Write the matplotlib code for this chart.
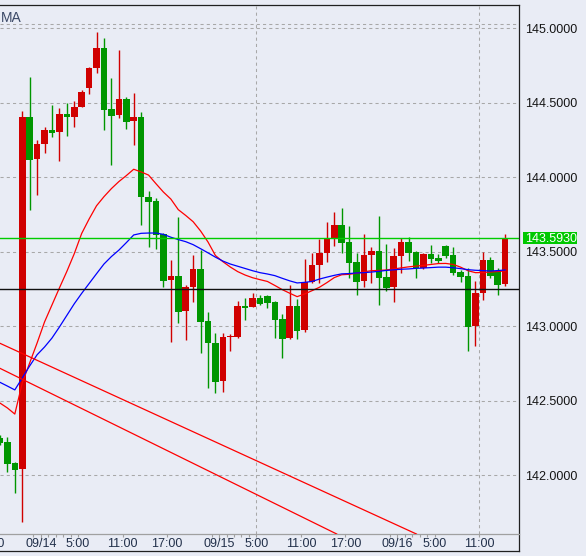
import numpy as np
import matplotlib
matplotlib.use('Agg')
import matplotlib.pyplot as plt
from matplotlib.patches import Rectangle
from matplotlib import transforms

plt.rcParams['font.family'] = ['Liberation Sans', 'DejaVu Sans']

# hourly candles, hour 0 = 09/15 5:00
hours = np.arange(-35, 34)
opens = [142.252, 142.224, 142.083, 142.044, 144.407, 144.123, 144.223, 144.317, 144.306, 144.425,
         144.407, 144.474, 144.601, 144.736, 144.868, 144.456, 144.418, 144.526, 144.380, 144.405,
         143.870, 143.841, 143.619, 143.311, 143.338, 143.105, 143.266, 143.385, 143.036, 142.888,
         142.635, 142.926, 142.930, 143.138, 143.132, 143.190, 143.203, 143.163, 143.049, 142.923,
         143.136, 142.975, 143.297, 143.411, 143.494, 143.593, 143.680, 143.566, 143.432, 143.306,
         143.479, 143.505, 143.329, 143.266, 143.472, 143.566, 143.499, 143.389, 143.485, 143.458,
         143.539, 143.479, 143.364, 143.338, 143.002, 143.226, 143.445, 143.371, 143.284]
highs = [142.270, 142.259, 142.090, 144.447, 144.675, 144.250, 144.340, 144.485, 144.463, 144.496,
         144.512, 144.586, 144.742, 144.975, 144.935, 144.666, 144.854, 144.539, 144.566, 144.440,
         143.908, 143.859, 143.628, 143.445, 143.732, 143.277, 143.479, 143.512, 143.094, 142.957,
         142.957, 142.948, 143.170, 143.192, 143.221, 143.210, 143.210, 143.170, 143.083, 143.277,
         143.183, 143.452, 143.494, 143.588, 143.700, 143.767, 143.794, 143.673, 143.494, 143.619,
         143.534, 143.740, 143.552, 143.525, 143.593, 143.597, 143.505, 143.490, 143.546, 143.485,
         143.546, 143.532, 143.378, 143.389, 143.304, 143.499, 143.465, 143.391, 143.620]
lows = [142.200, 142.024, 141.879, 141.689, 143.781, 143.881, 144.165, 144.272, 144.111, 144.279,
        144.340, 144.470, 144.559, 144.702, 144.317, 144.083, 144.398, 144.324, 144.217, 143.680,
        143.534, 143.519, 143.266, 142.897, 143.024, 142.908, 143.165, 142.823, 142.584, 142.554,
        142.561, 142.834, 142.919, 143.042, 143.128, 143.143, 143.125, 142.919, 142.789, 142.913,
        142.917, 142.964, 143.290, 143.293, 143.430, 143.541, 143.494, 143.326, 143.212, 143.266,
        143.293, 143.143, 143.239, 143.165, 143.356, 143.438, 143.326, 143.385, 143.427, 143.425,
        143.460, 143.344, 143.299, 142.836, 142.868, 143.176, 143.322, 143.210, 143.270]
closes = [142.219, 142.078, 142.038, 144.407, 144.116, 144.223, 144.317, 144.299, 144.425, 144.403,
          144.472, 144.572, 144.734, 144.868, 144.452, 144.411, 144.526, 144.373, 144.405, 143.866,
          143.836, 143.613, 143.306, 143.338, 143.098, 143.266, 143.385, 143.031, 142.886, 142.628,
          142.926, 142.930, 143.136, 143.125, 143.190, 143.152, 143.158, 143.042, 142.917, 143.136,
          142.970, 143.297, 143.411, 143.494, 143.593, 143.680, 143.561, 143.427, 143.299, 143.479,
          143.505, 143.326, 143.257, 143.472, 143.566, 143.494, 143.389, 143.485, 143.454, 143.438,
          143.474, 143.360, 143.333, 142.997, 143.226, 143.445, 143.338, 143.277, 143.593]
ma_fast = [142.485, 142.452, 142.411, 142.619, 142.754, 142.888, 143.029, 143.143, 143.257, 143.368,
           143.487, 143.623, 143.720, 143.809, 143.870, 143.924, 143.971, 144.011, 144.054, 144.036,
           144.015, 143.957, 143.901, 143.854, 143.783, 143.744, 143.702, 143.640, 143.566, 143.475,
           143.434, 143.398, 143.367, 143.344, 143.326, 143.313, 143.301, 143.274, 143.246, 143.222,
           143.199, 143.217, 143.239, 143.262, 143.293, 143.327, 143.346, 143.349, 143.356, 143.366,
           143.373, 143.375, 143.378, 143.385, 143.392, 143.399, 143.404, 143.409, 143.415, 143.421,
           143.422, 143.415, 143.397, 143.373, 143.360, 143.361, 143.364, 143.368, 143.371]
ma_slow = [142.624, 142.599, 142.573, 142.653, 142.734, 142.809, 142.861, 142.921, 142.995, 143.073,
           143.151, 143.221, 143.287, 143.353, 143.418, 143.468, 143.511, 143.561, 143.613, 143.624,
           143.626, 143.626, 143.617, 143.598, 143.582, 143.568, 143.548, 143.521, 143.493, 143.464,
           143.438, 143.418, 143.403, 143.388, 143.373, 143.360, 143.351, 143.340, 143.322, 143.305,
           143.291, 143.295, 143.301, 143.317, 143.330, 143.342, 143.352, 143.354, 143.358, 143.360,
           143.364, 143.369, 143.375, 143.379, 143.383, 143.385, 143.389, 143.391, 143.394, 143.397,
           143.397, 143.393, 143.387, 143.380, 143.376, 143.374, 143.371, 143.374, 143.378]

last_price = 143.593
black_level = 143.248
extra_level = 145.027
price_ticks = [142.0, 142.5, 143.0, 143.5, 144.0, 144.5, 145.0]
trend1 = [(-35, 142.886), (20, 141.630)]
trend2 = [(-35, 142.718), (10, 141.614)]

date_pos = [-29.5, -5.5, 18.5]
date_text = ['09/14', '09/15', '09/16']
hour_pos = [-30.5, -28.5, -27.5, -26.5, -25.5, -24.5, -18.5, -12.5, -6.5, -4.5, -3.5, -2.5, -1.5,
            -0.5, 5.5, 11.5, 17.5, 19.5, 20.5, 21.5, 22.5, 23.5, 29.5]
hour_text = {-24.5: '5:00', -18.5: '11:00', -12.5: '17:00', -0.5: '5:00', 5.5: '11:00',
             11.5: '17:00', 23.5: '5:00', 29.5: '11:00'}
vgrid = [-0.5, 29.5]

W, H = 586, 556
bg = '#E9ECF5'
up_col = '#D00000'
down_col = '#009600'

fig = plt.figure(figsize=(W / 100, H / 100), dpi=100, facecolor=bg)

# outer frame (includes the time label strip)
frame = fig.add_axes([0, 5 / H, 519.3 / W, 546 / H])
frame.set_facecolor(bg)
frame.set_xticks([])
frame.set_yticks([])
for s in ['top', 'right', 'bottom']:
    frame.spines[s].set_color('#202020')
    frame.spines[s].set_linewidth(0.9)
frame.spines['left'].set_visible(False)

ax = fig.add_axes([0, 22 / H, 519.3 / W, 529 / H])
ax.patch.set_alpha(0)
for s in ['top', 'right', 'left']:
    ax.spines[s].set_visible(False)
ax.spines['bottom'].set_color('#A0A0A0')
ax.spines['bottom'].set_linewidth(0.9)

ax.set_xlim(-34.993, 34.899)
ax.set_ylim(141.606, 145.1564)

# grid
for p in price_ticks + [extra_level]:
    ax.axhline(p, color='#A8A8A8', lw=0.75, ls=(0, (3, 3)), zorder=1)
for v in vgrid:
    ax.axvline(v, color='#A8A8A8', lw=0.75, ls=(0, (3, 3)), zorder=1)

# candles
o = np.array(opens)
c = np.array(closes)
cols = [up_col if cc >= oo else down_col for oo, cc in zip(o, c)]
ax.vlines(hours, lows, highs, colors=cols, lw=1.0, zorder=3)
ax.bar(hours, np.maximum(np.abs(c - o), 0.007), bottom=np.minimum(o, c), width=0.88,
       color=cols, linewidth=0, zorder=4)

# moving averages and lines
ax.plot(hours, ma_fast, color='#FF0000', lw=0.9, zorder=5)
ax.plot(hours, ma_slow, color='#0000FF', lw=0.9, zorder=5)
ax.axline(trend1[0], trend1[1], color='#FF0000', lw=0.9, zorder=5)
ax.axline(trend2[0], trend2[1], color='#FF0000', lw=0.9, zorder=5)
ax.axhline(last_price, color='#00CC00', lw=1.0, zorder=6)
ax.axhline(black_level, color='#101010', lw=1.0, zorder=6)

# right price scale
ax.yaxis.tick_right()
ax.set_yticks(price_ticks, [f'{p:.4f}' for p in price_ticks])
ax.tick_params(axis='y', length=0, pad=4, labelsize=9, labelcolor='#151515')

# time axis
ax.set_xticks(date_pos, date_text)
ax.set_xticks(hour_pos, [hour_text.get(h, '') for h in hour_pos], minor=True)
ax.tick_params(axis='x', which='major', direction='out', length=4.3, width=0.8, color='#A0A0A0',
               pad=-1.7, labelsize=9, labelcolor='#22304A')
ax.tick_params(axis='x', which='minor', direction='out', length=1.8, width=0.8, color='#A0A0A0',
               pad=0.8, labelsize=9, labelcolor='#22304A')
ax.text(-36.5, -0.0068, '17:00', transform=transforms.blended_transform_factory(ax.transData, ax.transAxes),
        ha='center', va='top', fontsize=9, color='#22304A', clip_on=False)

# current price tag
trans = transforms.blended_transform_factory(fig.transFigure, ax.transData)
box_h = 11.2 / 149
fig.add_artist(Rectangle((522.7 / W, last_price - box_h / 2), 54.6 / W, box_h, transform=trans,
                         facecolor='#00C800', edgecolor='none'))
fig.text(525 / W, last_price, f'{last_price:.4f}', transform=trans, color='white',
         va='center_baseline', ha='left', fontsize=9)

fig.text(1 / W, 1 - 18 / H, 'MA', fontsize=10, color='#3A4866', va='center', ha='left')

fig.savefig('out.png', dpi=100, facecolor=bg)
